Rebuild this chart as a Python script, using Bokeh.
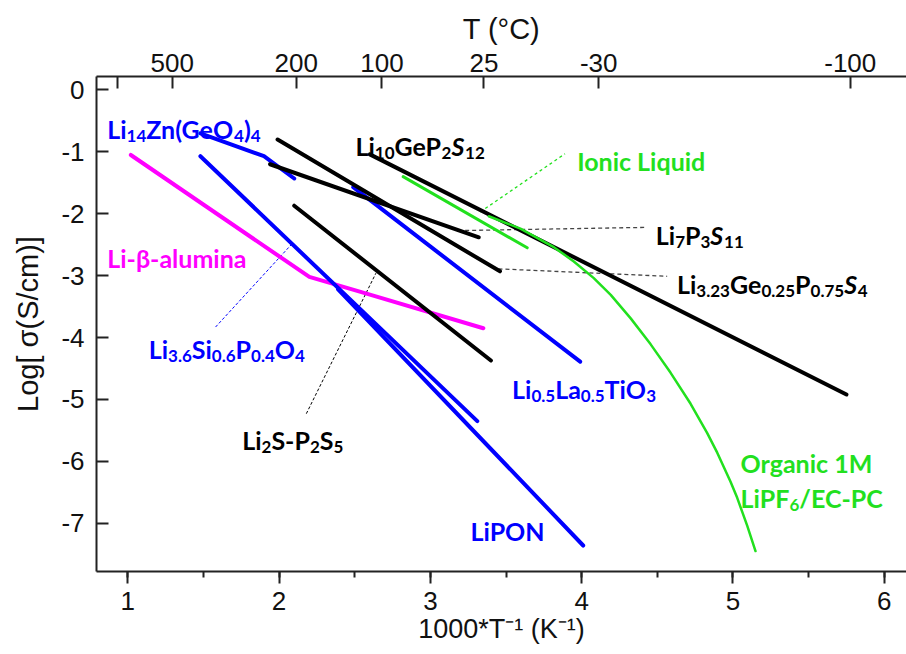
import re, glob, struct
from bokeh.plotting import figure
from bokeh.models import Range1d, LinearAxis, FixedTicker, SingleIntervalTicker, ColumnDataSource
from bokeh.core.properties import value
from bokeh.embed import file_html
from bokeh.resources import INLINE

# ---------------- data (1000/T in K^-1, log10 sigma in S/cm) ----------------
li14zn_x = [1.48, 1.90, 2.10]
li14zn_y = [-0.70, -1.07, -1.43]

alumina_x = [1.02, 2.20, 2.55, 3.35]
alumina_y = [-1.05, -3.02, -3.27, -3.85]

lisip_x = [1.48, 3.31]
lisip_y = [-1.07, -5.35]

lipon_x = [2.39, 4.01]
lipon_y = [-3.22, -7.36]

llto_x = [2.49, 3.99]
llto_y = [-1.57, -4.39]

li2sp2s5_x = [2.10, 3.40]
li2sp2s5_y = [-1.87, -4.37]

ligeps4_x = [1.99, 3.46]
ligeps4_y = [-0.80, -2.93]

li7p3s11_x = [1.94, 3.32]
li7p3s11_y = [-1.20, -2.38]

lgps_x = [2.60, 5.75]
lgps_y = [-1.04, -4.92]

ionic_x = [2.82, 3.64]
ionic_y = [-1.40, -2.55]

organic_x = [3.386, 3.595, 3.816, 3.948, 4.080, 4.192, 4.324, 4.456, 4.588,
             4.720, 4.829, 4.896, 4.984, 5.028, 5.094, 5.149]
organic_y = [-2.04, -2.24, -2.54, -2.77, -3.04, -3.31, -3.69, -4.11, -4.57,
             -5.07, -5.54, -5.86, -6.33, -6.59, -7.04, -7.45]

# top axis temperatures (deg C)
top_temps = [800, 500, 200, 100, 25, -30, -100]
top_labels = ["", "500", "200", "100", "25", "-30", "-100"]

# labels: "_{..}" = subscript, "~..~" = italic
lab_text = ["Li_{14}Zn(GeO_{4})_{4}", "Li_{10}GeP_{2}~S~_{12}", "Li_{7}P_{3}~S~_{11}",
            "Li_{3.23}Ge_{0.25}P_{0.75}~S~_{4}", "Li-\u03b2-alumina",
            "Li_{3.6}Si_{0.6}P_{0.4}O_{4}", "Li_{2}S-P_{2}S_{5}", "Li_{0.5}La_{0.5}TiO_{3}",
            "LiPON", "Ionic Liquid", "Organic 1M", "LiPF_{6}/EC-PC"]
lab_x = [0.864, 2.505, 4.49, 4.63, 0.864, 1.138, 1.756, 3.54, 3.265, 3.97, 5.05, 5.05]
lab_y = [-0.627, -0.897, -2.35, -3.13, -2.72, -4.18, -5.66, -4.83, -7.12, -1.14, -6.03, -6.60]

# ---------------- text measuring (for sub-script layout) ----------------
class FontWidths:
    def __init__(self, path):
        d = open(path, "rb").read()
        n = struct.unpack(">H", d[4:6])[0]
        t = {}
        for i in range(n):
            tag, _, off, _ln = struct.unpack(">4sIII", d[12 + 16 * i:28 + 16 * i])
            t[tag] = off
        self.upem = struct.unpack(">H", d[t[b"head"] + 18:t[b"head"] + 20])[0]
        nhm = struct.unpack(">H", d[t[b"hhea"] + 34:t[b"hhea"] + 36])[0]
        hm = t[b"hmtx"]
        self.adv = [struct.unpack(">H", d[hm + 4 * i:hm + 4 * i + 2])[0] for i in range(nhm)]
        self.d = d
        c = t[b"cmap"]
        ns = struct.unpack(">H", d[c + 2:c + 4])[0]
        self.st = None
        for i in range(ns):
            pid, eid, off = struct.unpack(">HHI", d[c + 4 + 8 * i:c + 12 + 8 * i])
            s = c + off
            if struct.unpack(">H", d[s:s + 2])[0] == 4 and pid in (0, 3):
                self.st = s
                break
        if self.st is None:
            raise ValueError("no cmap")

    def gid(self, ch):
        d, s = self.d, self.st
        segx2 = struct.unpack(">H", d[s + 6:s + 8])[0]
        ends = s + 14
        starts = ends + segx2 + 2
        deltas = starts + segx2
        ros = deltas + segx2
        cp = ord(ch)
        for i in range(segx2 // 2):
            e = struct.unpack(">H", d[ends + 2 * i:ends + 2 * i + 2])[0]
            if e >= cp:
                st = struct.unpack(">H", d[starts + 2 * i:starts + 2 * i + 2])[0]
                if st > cp:
                    return 0
                delta = struct.unpack(">h", d[deltas + 2 * i:deltas + 2 * i + 2])[0]
                ro = struct.unpack(">H", d[ros + 2 * i:ros + 2 * i + 2])[0]
                if ro == 0:
                    return (cp + delta) & 0xFFFF
                addr = ros + 2 * i + ro + 2 * (cp - st)
                g = struct.unpack(">H", d[addr:addr + 2])[0]
                return (g + delta) & 0xFFFF if g else 0
        return 0

    def width(self, text, size):
        tot = 0
        for ch in text:
            g = self.gid(ch)
            tot += self.adv[min(g, len(self.adv) - 1)]
        return tot / self.upem * size


def approx_width(text, size):
    narrow = set("iIl.,:;!|'()[]-/ j")
    wide = set("MWmwOGQDNH")
    w = 0
    for ch in text:
        w += 0.26 if ch in narrow else (0.78 if ch in wide else 0.54)
    return w * size


_fw = None
for pat in ["/usr/share/fonts/**/Lato-Bold.ttf", "/usr/share/fonts/**/Lato-Bold.otf",
            "/usr/local/share/fonts/**/Lato-Bold.ttf", "/usr/share/fonts/**/Lato*Bold*.ttf"]:
    try:
        found = [f for f in glob.glob(pat, recursive=True) if "Italic" not in f]
    except Exception:
        found = []
    if found:
        try:
            _fw = FontWidths(found[0])
            break
        except Exception:
            _fw = None


def text_width(text, size):
    if _fw is not None:
        try:
            return _fw.width(text, size)
        except Exception:
            pass
    return approx_width(text, size)


# ---------------- figure ----------------
p = figure(width=906, height=654,
           x_range=Range1d(0.7931, 6.147), y_range=Range1d(-7.78, 0.218),
           output_backend="svg", toolbar_location=None,
           min_border_left=96, min_border_right=0,
           min_border_top=76, min_border_bottom=83)
p.xgrid.visible = False
p.ygrid.visible = False
p.outline_line_color = None
p.background_fill_color = "white"
p.border_fill_color = "white"

AX_FONT = "Liberation Sans"

xa = p.xaxis[0]
xa.ticker = SingleIntervalTicker(interval=1, num_minor_ticks=2)
xa.major_tick_in = 0
xa.major_tick_out = 12
xa.minor_tick_in = 0
xa.minor_tick_out = 6
xa.axis_label = "1000*T\u207b\u00b9 (K\u207b\u00b9)"

ya = p.yaxis[0]
ya.ticker = SingleIntervalTicker(interval=1, num_minor_ticks=0)
ya.major_tick_in = 12
ya.major_tick_out = 0
ya.minor_tick_line_color = None
ya.axis_label = "Log[ \u03c3(S/cm)]"
ya.major_label_overrides = {v: ("%d" % v) for v in range(-8, 1)}

tpos = [1000.0 / (t + 273.15) for t in top_temps]
ta = LinearAxis(ticker=FixedTicker(ticks=tpos),
                major_label_overrides={tp: lab for tp, lab in zip(tpos, top_labels)},
                axis_label="T (\u00b0C)")
ta.major_tick_in = 12
ta.major_tick_out = 0
ta.minor_tick_line_color = None
p.add_layout(ta, "above")

for ax in (xa, ya, ta):
    ax.axis_line_width = 2
    ax.major_tick_line_width = 2
    ax.minor_tick_line_width = 2
    ax.axis_line_color = "#222222"
    ax.major_tick_line_color = "#222222"
    ax.major_label_text_font = AX_FONT
    ax.major_label_text_font_size = "26px"
    ax.major_label_text_color = "#111111"
    ax.axis_label_text_font = AX_FONT
    ax.axis_label_text_font_style = "normal"
    ax.axis_label_text_color = "#111111"
xa.minor_tick_line_color = "#222222"
ya.axis_label_text_font_size = "29px"
ta.axis_label_text_font_size = "29px"
xa.axis_label_text_font_size = "27px"
ya.major_label_standoff = 12
ya.axis_label_standoff = 14
xa.major_label_standoff = 8
xa.axis_label_standoff = 1
ta.major_label_standoff = 5
ta.axis_label_standoff = 6

BLUE = "#0000ff"
BLACK = "#000000"
MAG = "#ff00ff"
GREEN = "#22e01e"


def ln(x, y, color, w):
    p.line(x, y, line_color=color, line_width=w, line_cap="round", line_join="round")


# leader lines (dashed)
p.line([3.33, 3.89], [-1.97, -1.03], line_color=GREEN, line_width=1.3, line_dash="3 3")
p.line([3.23, 4.42], [-2.27, -2.22], line_color="#444444", line_width=1.3, line_dash="4 3")
p.line([3.45, 4.565], [-2.89, -3.01], line_color="#444444", line_width=1.3, line_dash="4 3")
p.line([1.58, 2.08], [-3.83, -2.50], line_color=BLUE, line_width=1, line_dash="3 2")
p.line([2.18, 2.64], [-5.23, -2.96], line_color=BLACK, line_width=1, line_dash="3 2")

ln(alumina_x, alumina_y, MAG, 4)
ln(li14zn_x, li14zn_y, BLUE, 4)
ln(lisip_x, lisip_y, BLUE, 4)
ln(lipon_x, lipon_y, BLUE, 4)
ln(llto_x, llto_y, BLUE, 4)
ln(li2sp2s5_x, li2sp2s5_y, BLACK, 4)
ln(ligeps4_x, ligeps4_y, BLACK, 4)
ln(li7p3s11_x, li7p3s11_y, BLACK, 4)
ln(ionic_x, ionic_y, GREEN, 3)
ln(lgps_x, lgps_y, BLACK, 4)
ln(organic_x, organic_y, GREEN, 2.5)

# ---------------- labels with sub-scripts ----------------
lab_col = [BLUE, BLACK, BLACK, BLACK, MAG, BLUE, BLACK, BLUE, BLUE, GREEN, GREEN, GREEN]
MAIN = 25.0
SUB = 17.0
SUB_DY = 7

seg = dict(x=[], y=[], text=[], dx=[], dy=[], size=[], style=[], color=[])
tok = re.compile(r"_\{([^}]*)\}|~([^~]*)~|([^_~]+)")
for txt, x0, y0, col in zip(lab_text, lab_x, lab_y, lab_col):
    off = 0.0
    for m in tok.finditer(txt):
        sub, ital, norm = m.groups()
        if sub is not None:
            s, size, dy, style = sub, SUB, SUB_DY, "bold"
        elif ital is not None:
            s, size, dy, style = ital, MAIN, 0, "bold italic"
        else:
            s, size, dy, style = norm, MAIN, 0, "bold"
        seg["x"].append(x0)
        seg["y"].append(y0)
        seg["text"].append(s)
        seg["dx"].append(off)
        seg["dy"].append(dy)
        seg["size"].append("%.1fpx" % size)
        seg["style"].append(style)
        seg["color"].append(col)
        off += text_width(s, size)

src = ColumnDataSource(seg)
p.text(x="x", y="y", text="text", x_offset="dx", y_offset="dy", source=src,
       text_color="color", text_font=value("Lato"), text_font_style="style",
       text_font_size="size", text_align="left", text_baseline="alphabetic")

open("out.html", "w").write(file_html(p, INLINE))
